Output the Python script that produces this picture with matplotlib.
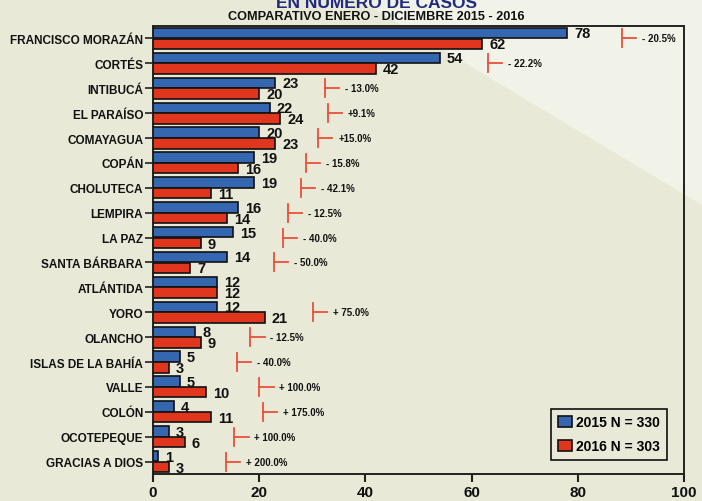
import matplotlib
matplotlib.use("Agg")
import matplotlib.pyplot as plt
from matplotlib.patches import Polygon, Patch
import numpy as np

plt.rcParams['font.family'] = ['Liberation Sans', 'DejaVu Sans']
plt.rcParams['font.weight'] = 'bold'

departments = ['FRANCISCO MORAZÁN', 'CORTÉS', 'INTIBUCÁ', 'EL PARAÍSO', 'COMAYAGUA',
               'COPÁN', 'CHOLUTECA', 'LEMPIRA', 'LA PAZ', 'SANTA BÁRBARA', 'ATLÁNTIDA',
               'YORO', 'OLANCHO', 'ISLAS DE LA BAHÍA', 'VALLE', 'COLÓN', 'OCOTEPEQUE',
               'GRACIAS A DIOS']
cases_2015 = [78, 54, 23, 22, 20, 19, 19, 16, 15, 14, 12, 12, 8, 5, 5, 4, 3, 1]
cases_2016 = [62, 42, 20, 24, 23, 16, 11, 14, 9, 7, 12, 21, 9, 3, 10, 11, 6, 3]
change_labels = ['- 20.5%', '- 22.2%', '- 13.0%', '+9.1%', '+15.0%', '- 15.8%', '- 42.1%',
                 '- 12.5%', '- 40.0%', '- 50.0%', None, '+ 75.0%', '- 12.5%', '- 40.0%',
                 '+ 100.0%', '+ 175.0%', '+ 100.0%', '+ 200.0%']
change_marker_x = [88.3, 63.0, 32.4, 32.9, 31.1, 28.8, 27.9, 25.4, 24.4, 22.8, None, 30.1,
                   18.3, 15.8, 20.0, 20.7, 15.3, 13.7]
legend_labels = ['2015 N = 330', '2016 N = 303']
x_ticks = [0, 20, 40, 60, 80, 100]

BLUE = '#3467b0'
RED = '#e0361d'
MARK = '#e8503a'
BG = '#e8e9d7'
LIGHT = '#f2f3e8'

W, H = 702, 502
fig = plt.figure(figsize=(7.02, 5.02), dpi=100)
fig.patch.set_facecolor(BG)

# background decoration axes
bg = fig.add_axes([0, 0, 1, 1], zorder=-10)
bg.set_xlim(0, W)
bg.set_ylim(H, 0)
bg.axis('off')
bg.add_patch(Polygon([(358, 0), (W, 0), (W, 206)], closed=True, facecolor=LIGHT,
                     edgecolor='none'))

ax = fig.add_axes([153 / W, 1 - 475 / H, (684 - 153) / W, (475 - 27) / H])
ax.set_facecolor('none')

y = np.arange(len(departments))
h = 0.42
ax.barh(y - 0.215, cases_2015, height=h, color=BLUE, edgecolor='#111111', linewidth=1.2, zorder=3)
ax.barh(y + 0.215, cases_2016, height=h, color=RED, edgecolor='#111111', linewidth=1.2, zorder=3)

for i in range(len(departments)):
    ax.annotate(str(cases_2015[i]), (cases_2015[i], y[i] - 0.2), xytext=(7, 0),
                textcoords='offset pixels', va='center', ha='left', fontsize=10.5,
                fontweight='bold', color='#111111', zorder=5)
    ax.annotate(str(cases_2016[i]), (cases_2016[i], y[i] + 0.24), xytext=(7, 0),
                textcoords='offset pixels', va='center', ha='left', fontsize=10.5,
                fontweight='bold', color='#111111', zorder=5)
    if change_labels[i] is not None:
        mx = change_marker_x[i]
        ax.plot([mx, mx], [y[i] - 0.36, y[i] + 0.36], color=MARK, lw=1.3, zorder=4)
        ax.plot([mx, mx + 2.7], [y[i], y[i]], color=MARK, lw=1.3, zorder=4)
        ax.annotate(change_labels[i], (mx, y[i]), xytext=(20, 0), textcoords='offset pixels',
                    va='center', ha='left', fontsize=7, fontweight='bold', color='#111111')

ax.set_xlim(0, 100)
ax.set_ylim(len(departments) - 0.5, -0.5)
ax.set_yticks(y)
ax.set_yticklabels(departments, fontsize=8.5, fontweight='bold', color='#111111')
ax.set_xticks(x_ticks)
ax.set_xticklabels([str(t) for t in x_ticks], fontsize=11, fontweight='bold', color='#111111')
ax.tick_params(axis='y', length=6, width=1.2, pad=1, direction='out', color='#222222')
ax.tick_params(axis='x', length=6, width=1.5, pad=2, direction='out', color='#222222')
for s in ax.spines.values():
    s.set_linewidth(1.4)
    s.set_color('#222222')

handles = [Patch(facecolor=BLUE, edgecolor='#111111', linewidth=1.2),
           Patch(facecolor=RED, edgecolor='#111111', linewidth=1.2)]
leg = ax.legend(handles, legend_labels, loc='lower right', bbox_to_anchor=(0.968, 0.031),
                borderaxespad=0, prop={'weight': 'bold', 'size': 10}, frameon=True,
                fancybox=False, handlelength=1.0, handleheight=0.8, handletextpad=0.3,
                borderpad=0.5, labelspacing=0.7, framealpha=1)
leg.get_frame().set_edgecolor('#111111')
leg.get_frame().set_linewidth(1.2)
leg.get_frame().set_facecolor(BG)

fig.text(376 / W, 1 - 3 / H, 'EN NÚMERO DE CASOS', ha='center', va='center', fontsize=12.5,
         fontweight='bold', color='#1f2a80')
fig.text(376 / W, 1 - 17 / H, 'COMPARATIVO ENERO - DICIEMBRE 2015 - 2016', ha='center',
         va='center', fontsize=9.2, fontweight='bold', color='#111111')

fig.savefig('out.png', dpi=100, facecolor=fig.get_facecolor())
